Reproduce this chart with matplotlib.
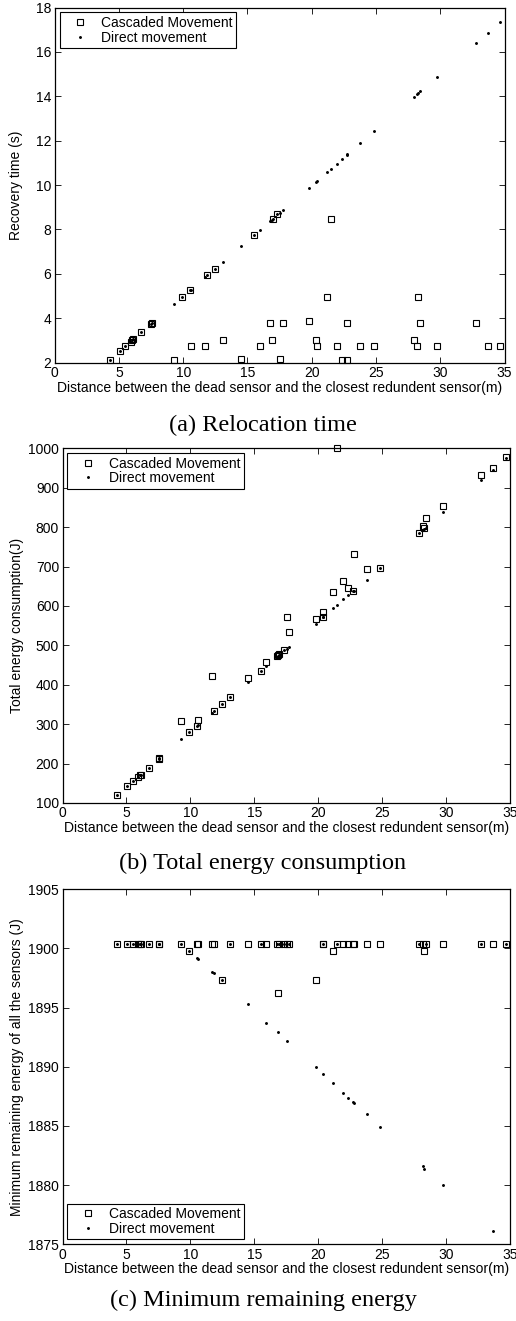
import matplotlib
matplotlib.use("Agg")
import matplotlib.pyplot as plt

# ===== Data =====
dist = [4.28, 5.06, 5.50, 5.90, 6.05, 6.12, 6.75, 7.52, 7.58, 9.28,
        9.93, 10.55, 10.58, 11.70, 11.88, 12.45, 13.12, 14.50, 15.50, 15.95,
        16.75, 16.88, 16.95, 17.32, 17.52, 17.74, 19.80, 20.35, 20.38, 21.15,
        21.48, 21.95, 22.33, 22.73, 22.76, 23.78, 24.86, 27.92, 28.17, 28.30,
        28.40, 29.78, 32.77, 33.68, 34.68]

time_cascaded = [2.14, 2.53, 2.75, 2.95, 3.02, 3.06, 3.37, 3.76, 3.79, 2.14,
                 4.96, 5.28, 2.76, 2.76, 5.94, 6.23, 3.02, 2.15, 7.75, 2.76,
                 3.77, 3.02, 8.47, 8.68, 2.15, 3.77, 3.88, 3.02, 2.76, 4.96,
                 8.47, 2.76, 2.13, 2.13, 3.77, 2.76, 2.76, 3.02, 2.76, 4.96,
                 3.77, 2.76, 3.77, 2.76, 2.76]
time_direct = [2.14, 2.53, 2.75, 2.95, 3.02, 3.06, 3.37, 3.76, 3.79, 4.64,
               4.96, 5.28, 5.29, 5.85, 5.94, 6.23, 6.55, 7.24, 7.75, 7.99,
               8.38, 8.44, 8.47, 8.68, 8.76, 8.86, 9.89, 10.16, 10.18, 10.57,
               10.73, 10.97, 11.16, 11.37, 11.38, 11.89, 12.43, 13.96, 14.10, 14.16,
               14.22, 14.89, 16.39, 16.84, 17.34]

energy_cascaded = [120, 142, 156, 166, 170, 172, 190, 211, 214, 307,
                   279, 296, 311, 423, 334, 350, 368, 418, 435, 457,
                   472, 476, 478, 488, 573, 535, 567, 584, 573, 636,
                   1000, 664, 645, 638, 731, 695, 696, 786, 804, 798,
                   824, 853, 932, 951, 979]
energy_direct = [120, 142, 155, 166, 170, 172, 190, 211, 213, 262,
                 279, 296, 297, 329, 334, 350, 368, 408, 435, 448,
                 471, 474, 476, 487, 492, 497, 555, 572, 573, 594,
                 603, 617, 628, 638, 639, 667, 697, 785, 792, 795,
                 798, 838, 919, 946, 975]

remain_cascaded = [1900.4, 1900.4, 1900.4, 1900.4, 1900.4, 1900.4, 1900.4, 1900.4, 1900.4, 1900.4,
                   1899.8, 1900.4, 1900.4, 1900.4, 1900.4, 1897.3, 1900.4, 1900.4, 1900.4, 1900.4,
                   1900.4, 1896.2, 1900.4, 1900.4, 1900.4, 1900.4, 1897.3, 1900.4, 1900.4, 1899.8,
                   1900.4, 1900.4, 1900.4, 1900.4, 1900.4, 1900.4, 1900.4, 1900.4, 1900.4, 1899.8,
                   1900.4, 1900.4, 1900.4, 1900.4, 1900.4]
remain_direct = [1900.4, 1900.4, 1900.4, 1900.4, 1900.4, 1900.4, 1900.4, 1900.4, 1900.4, 1900.4,
                 1899.8, 1899.2, 1899.1, 1898.0, 1897.9, 1897.3, 1900.4, 1895.3, 1900.4, 1893.7,
                 1900.4, 1892.9, 1900.4, 1900.4, 1892.2, 1900.4, 1890.0, 1889.4, 1900.4, 1888.6,
                 1900.4, 1887.8, 1887.4, 1887.0, 1886.9, 1886.0, 1884.9, 1900.4, 1881.6, 1881.4,
                 1900.4, 1880.0, 1900.4, 1876.1, 1900.4]

XLABEL = "Distance between the dead sensor and the closest redundent sensor(m)"
SANS = "Liberation Sans"
SERIF = "Liberation Serif"
FS = 10

W, H = 516, 1321


def px_box(left, top, right, bottom):
    """Axes rectangle from pixel edges."""
    return [left / W, 1 - bottom / H, (right - left) / W, (bottom - top) / H]


def draw_panel(ax, y_casc, y_dir, ylim, yticks, ylabel, legend_loc, ylabelpad=3):
    ax.plot(dist, y_casc, linestyle="none", marker="s", markersize=4.3,
            markerfacecolor="none", markeredgecolor="k", markeredgewidth=0.8,
            clip_on=False, label="Cascaded Movement")
    ax.plot(dist, y_dir, linestyle="none", marker=".", markersize=2.2,
            color="k", clip_on=False, label="Direct movement")
    ax.set_xlim(0, 35)
    ax.set_ylim(*ylim)
    ax.set_xticks(range(0, 36, 5))
    ax.set_yticks(yticks)
    ax.tick_params(direction="in", top=True, right=True, length=4, width=0.6,
                   labelsize=FS, pad=2.5)
    for lab in ax.get_xticklabels() + ax.get_yticklabels():
        lab.set_family(SANS)
    for sp in ax.spines.values():
        sp.set_linewidth(0.9)
    ax.set_xlabel(XLABEL, family=SANS, fontsize=FS, labelpad=0.5)
    ax.set_ylabel(ylabel, family=SANS, fontsize=FS, labelpad=ylabelpad)
    leg = ax.legend(loc=legend_loc, prop={"family": SANS, "size": FS},
                    fancybox=False, edgecolor="k", framealpha=1,
                    borderaxespad=0.35, handlelength=2.4, handletextpad=0.35,
                    borderpad=0.25, labelspacing=0.05)
    leg.get_frame().set_linewidth(0.8)


fig = plt.figure(figsize=(W / 100, H / 100), dpi=100)

ax_a = fig.add_axes(px_box(54.7, 7.5, 504.5, 362.7))
draw_panel(ax_a, time_cascaded, time_direct, (2, 18), range(2, 19, 2),
           "Recovery time (s)", "upper left", ylabelpad=9)

ax_b = fig.add_axes(px_box(62.5, 448.3, 510, 803))
draw_panel(ax_b, energy_cascaded, energy_direct, (100, 1000), range(100, 1001, 100),
           "Total energy consumption(J)", "upper left")

ax_c = fig.add_axes(px_box(62.5, 889.2, 510, 1244.3))
draw_panel(ax_c, remain_cascaded, remain_direct, (1875, 1905), range(1875, 1906, 5),
           "Minimum remaining energy of all the sensors (J)", "lower left")

fig.text(263 / W, 1 - 425 / H, "(a) Relocation time", family=SERIF, fontsize=17.5,
         ha="center", va="center")
fig.text(263 / W, 1 - 863 / H, "(b) Total energy consumption", family=SERIF, fontsize=17.5,
         ha="center", va="center")
fig.text(263 / W, 1 - 1300 / H, "(c) Minimum remaining energy", family=SERIF, fontsize=17.5,
         ha="center", va="center")

fig.savefig("out.png", dpi=100)
